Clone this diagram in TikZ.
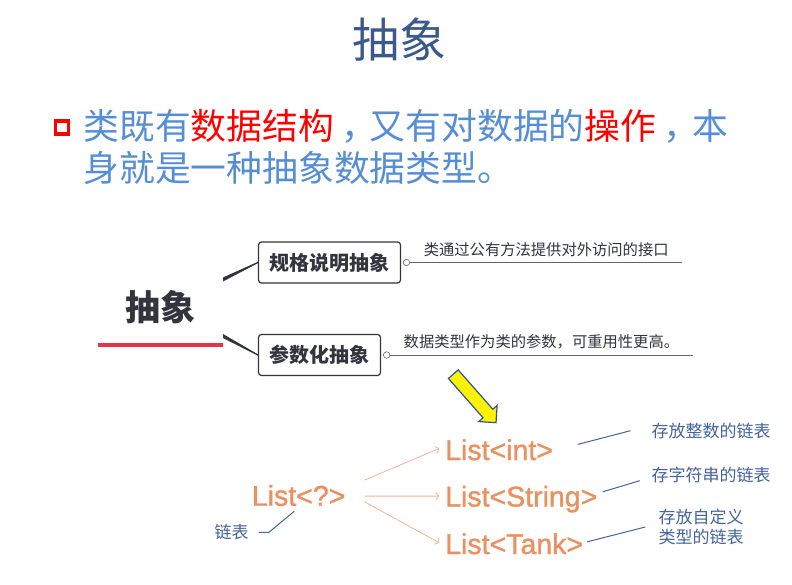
\documentclass[tikz,border=0pt]{standalone}
\usepackage{fontspec}
\setmainfont{Noto Sans CJK SC}
\newfontfamily\listfont[FakeBold=1.3]{Liberation Sans}
\usepackage{tikz}
\usetikzlibrary{arrows.meta,positioning,calc}
\usepackage{xcolor}
\definecolor{titleblue}{RGB}{59,89,138}
\definecolor{textblue}{RGB}{85,142,213}
\definecolor{inkgray}{RGB}{50,52,62}
\definecolor{linegray}{RGB}{100,100,110}
\definecolor{rootred}{RGB}{232,50,72}
\definecolor{listorange}{RGB}{234,145,98}
\definecolor{arrowpeach}{RGB}{242,180,148}
\definecolor{tagblue}{RGB}{70,100,155}
\definecolor{hintblue}{RGB}{47,85,151}
\newcommand{\redword}[1]{\textcolor{red}{#1}}
\newcommand{\wcomma}{\makebox[1em][l]{\hspace{0.2em}，}}

\begin{document}
\begin{tikzpicture}[x=1pt, y=-1pt,
  btext/.style={text=textblue, font=\fontsize{35.8}{42}\selectfont, inner sep=0pt},
  topic/.style={draw=inkgray, line width=1.2pt, rounded corners=3pt, fill=white, text=inkgray, font=\fontsize{20}{24}\selectfont\bfseries, minimum height=41pt, inner xsep=11pt},
  knob/.style={circle, draw=linegray, fill=white, line width=0.6pt, minimum size=6.5pt, inner sep=0pt},
  note/.style={text=inkgray, font=\fontsize{15.3}{18}\selectfont, inner xsep=0pt, inner ysep=6pt, anchor=south west},
  wire/.style={draw=linegray, line width=0.8pt},
  lst/.style={text=listorange, font=\listfont\fontsize{28.5}{32}\selectfont, inner sep=0pt},
  arr/.style={draw=arrowpeach, line width=0.8pt, -{Straight Barb[length=3pt, width=7pt]}},
  tag/.style={draw=tagblue, line width=1pt},
  tagtext/.style={text=tagblue, font=\fontsize{17}{19.5}\selectfont, inner sep=0pt, align=center}
]
\fill[white] (0,0) rectangle (792,585);
\useasboundingbox (0,0) rectangle (792,585);

% title and bullet
\node[text=titleblue, font=\fontsize{47}{52}\selectfont] (title) at (399,40) {抽象};
\node[draw=red, line width=3.2pt, minimum size=13pt, inner sep=0pt] (mark) at (62.3,127.5) {};
\node[btext, anchor=base west] (l1) at (83.3,139.5) {类既有\redword{数据结构}\wcomma 又有对数据的\redword{操作}\wcomma 本};
\node[btext, below=42pt of l1.base west, anchor=base west] (l2) {身就是一种抽象数据类型。};

% mind map
\node[text=inkgray, font=\fontsize{35}{40}\selectfont\bfseries] (absroot) at (160.3,307) {抽象};
\draw[rootred, line width=4pt] (98,344.7) -- (223,344.7);
\coordinate (rootN) at (223,279.5);
\coordinate (rootS) at (223,336);
\node[topic] (spec) at (329.5,262.5) {规格说明抽象};
\node[topic] (param) at (319.5,355) {参数化抽象};
\fill[inkgray] ($(rootN)+(0,-2)$) -- ($(spec.west)+(0,-0.7)$) -- ($(spec.west)+(0,0.7)$) -- ($(rootN)+(0,2)$) -- cycle;
\fill[inkgray] ($(rootS)+(0,-2)$) -- ($(param.west)+(0,-0.7)$) -- ($(param.west)+(0,0.7)$) -- ($(rootS)+(0,2)$) -- cycle;

\node[knob, right=1.8pt of spec] (k1) {};
\node[knob, right=2pt of param] (k2) {};
\node[note, minimum width=272pt] (n1) at (k1.east) {类通过公有方法提供对外访问的接口};
\node[note, minimum width=302pt] (n2) at (k2.east) {数据类型作为类的参数，可重用性更高。};
\draw[wire] (k1) -- (n1.south east);
\draw[wire] (k2) -- (n2.south east);

% yellow hint arrow
\begin{scope}[shift={(453.3,374.2)}, rotate=-48.6]
\draw[hintblue, fill=yellow, line width=1.2pt] (0,-6.5) -- (52.4,-6.5) -- (52.4,-12.2) -- (64.6,0) -- (52.4,12.2) -- (52.4,6.5) -- (0,6.5) -- cycle;
\end{scope}

% generic lists
\node[lst, anchor=base west] (q) at (251.7,505.7) {List<?>};
\node[lst, anchor=base west] (li) at (445,460) {List<int>};
\node[lst, below=46.5pt of li.base west, anchor=base west] (ls) {List<String>};
\node[lst, below=47.5pt of ls.base west, anchor=base west] (lt) {List<Tank>};
\draw[arr] ([shift={(19,-15.4)}]q.east) -- ([shift={(-5.7,-1.4)}]li.west);
\draw[arr] ([shift={(19,0.6)}]q.east) -- ([shift={(-5.7,-3)}]ls.west);
\draw[arr] ([shift={(19,6.3)}]q.east) -- ([shift={(-5.7,-1)}]lt.west);

\node[tagtext] (d1) at (711.2,430.7) {存放整数的链表};
\node[tagtext] (d2) at (711.2,475) {存字符串的链表};
\node[tagtext] (d3) at (701,527) {存放自定义\\类型的链表};
\node[tagtext] (lb) at (231.7,532.3) {链表};
\draw[tag] ([shift={(24.6,-5.4)}]li.east) -- ([xshift=-21pt]d1.west);
\draw[tag] ([shift={(5.2,-7.3)}]ls.east) -- ([shift={(-11.7,5.7)}]d2.west);
\draw[tag] ([shift={(4,-2)}]lt.east) -- ([xshift=-13pt]d3.west);
\draw[tag] ([xshift=10pt]lb.east) -- ++(10,0) -- ([shift={(-4.3,5)}]q.south);
\end{tikzpicture}
\end{document}
